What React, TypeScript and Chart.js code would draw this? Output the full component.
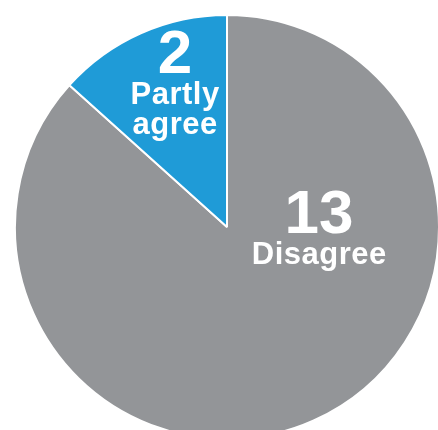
import React, { useEffect, useRef } from "react";
import { Chart, registerables } from "chart.js";

Chart.register(...registerables);

const categories = ["Disagree", "Partly agree"];
const values = [13, 2];
const valueLabels = ["13", "2"];
const nameLines = [["Disagree"], ["Partly", "agree"]];
const colors = ["#939598", "#1f9bd7"];

// label anchors: angle (deg, canvas coords) and fraction of radius
const anchors = [
  { angle: 3.7, frac: 0.435 },
  { angle: -108.7, frac: 0.767 },
];

const labelPlugin = {
  id: "sliceLabels",
  afterDatasetsDraw(chart: any) {
    const meta = chart.getDatasetMeta(0);
    const ctx = chart.ctx;
    ctx.save();
    ctx.fillStyle = "#ffffff";
    ctx.textAlign = "center";
    ctx.textBaseline = "alphabetic";
    meta.data.forEach((arc: any, i: number) => {
      const a = (anchors[i].angle * Math.PI) / 180;
      const r = arc.outerRadius * anchors[i].frac;
      const x = arc.x + Math.cos(a) * r;
      const y = arc.y + Math.sin(a) * r;
      ctx.font = "bold 62px 'Liberation Sans', Arial, sans-serif";
      (ctx as any).letterSpacing = "0px";
      ctx.fillText(valueLabels[i], x, y);
      ctx.font = "bold 31px 'Liberation Sans', Arial, sans-serif";
      (ctx as any).letterSpacing = "0.5px";
      nameLines[i].forEach((line, j) => {
        ctx.fillText(line, x + 0.25, y + 31 + j * 30);
      });
    });
    ctx.restore();
  },
};

export default function App() {
  const ref = useRef<HTMLCanvasElement>(null);
  useEffect(() => {
    document.body.style.overflow = "hidden";
    const chart = new Chart(ref.current!, {
      type: "pie",
      data: {
        labels: categories,
        datasets: [
          {
            data: values,
            backgroundColor: colors,
            borderColor: "#ffffff",
            borderWidth: 2,
          },
        ],
      },
      options: {
        responsive: false,
        animation: false,
        radius: 212,
        layout: { padding: 0 },
        plugins: {
          legend: { display: false },
          tooltip: { enabled: false },
        },
      } as any,
      plugins: [labelPlugin],
    });
    return () => chart.destroy();
  }, []);
  return (
    <canvas
      ref={ref}
      width={424}
      height={424}
      style={{ position: "fixed", left: 15, top: 15, width: 424, height: 424 }}
    />
  );
}
